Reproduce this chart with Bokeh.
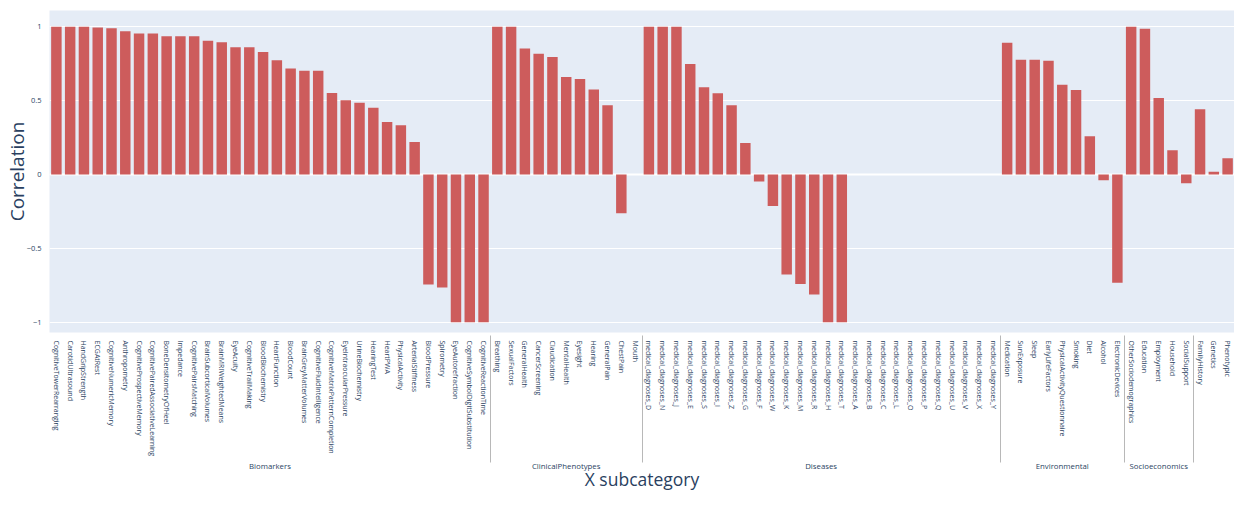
import math
from bokeh.plotting import figure
from bokeh.models import FactorRange, Range1d, FixedTicker, Span, ColumnDataSource
from bokeh.embed import file_html
from bokeh.resources import INLINE

# ---------------- data ----------------
biomarkers = ["CognitiveTowerRearranging", "CarotidUltrasound", "HandGripStrength", "ECGAtRest",
              "CognitiveNumericMemory", "Anthropometry", "CognitiveProspectiveMemory",
              "CognitivePairedAssociativeLearning", "BoneDensitometryOfHeel", "Impedance",
              "CognitivePairsMatching", "BrainSubcorticalVolumes", "BrainMRIWeightedMeans", "EyeAcuity",
              "CognitiveTrailMaking", "BloodBiochemistry", "HeartFunction", "BloodCount",
              "BrainGreyMatterVolumes", "CognitiveFluidIntelligence", "CognitiveMatrixPatternCompletion",
              "EyeIntraocularPressure", "UrineBiochemistry", "HearingTest", "HeartPWA", "PhysicalActivity",
              "ArterialStiffness", "BloodPressure", "Spirometry", "EyeAutorefraction",
              "CognitiveSymbolDigitSubstitution", "CognitiveReactionTime"]
biomarkers_corr = [1.0, 1.0, 1.0, 0.995, 0.989, 0.969, 0.955, 0.955, 0.935, 0.935,
                   0.935, 0.905, 0.895, 0.862, 0.862, 0.829, 0.773, 0.718, 0.702, 0.702,
                   0.551, 0.502, 0.485, 0.451, 0.355, 0.333, 0.22, -0.745, -0.765, -1.0,
                   -1.0, -1.0]

clinical = ["Breathing", "SexualFactors", "GeneralHealth", "CancerScreening", "Claudication",
            "MentalHealth", "Eyesight", "Hearing", "GeneralPain", "ChestPain", "Mouth"]
clinical_corr = [1.0, 1.0, 0.853, 0.818, 0.796, 0.66, 0.647, 0.576, 0.469, -0.262, 0.0]

diseases = ["medical_diagnoses_D", "medical_diagnoses_N", "medical_diagnoses_J", "medical_diagnoses_E",
            "medical_diagnoses_S", "medical_diagnoses_I", "medical_diagnoses_Z", "medical_diagnoses_G",
            "medical_diagnoses_F", "medical_diagnoses_W", "medical_diagnoses_K", "medical_diagnoses_M",
            "medical_diagnoses_R", "medical_diagnoses_H", "medical_diagnoses_T", "medical_diagnoses_A",
            "medical_diagnoses_B", "medical_diagnoses_C", "medical_diagnoses_L", "medical_diagnoses_O",
            "medical_diagnoses_P", "medical_diagnoses_Q", "medical_diagnoses_U", "medical_diagnoses_V",
            "medical_diagnoses_X", "medical_diagnoses_Y"]
diseases_corr = [1.0, 1.0, 1.0, 0.747, 0.591, 0.549, 0.469, 0.213, -0.047, -0.213, -0.678, -0.742,
                 -0.813, -1.0, -1.0, 0.0, 0.0, 0.0, 0.0, 0.0, 0.0, 0.0, 0.0, 0.0, 0.0, 0.0]

environmental = ["Medication", "SunExposure", "Sleep", "EarlyLifeFactors", "PhysicalActivityQuestionnaire",
                 "Smoking", "Diet", "Alcohol", "ElectronicDevices"]
environmental_corr = [0.891, 0.776, 0.776, 0.769, 0.607, 0.571, 0.258, -0.04, -0.733]

socioeconomics = ["OtherSociodemographics", "Education", "Employment", "Household", "SocialSupport"]
socioeconomics_corr = [1.0, 0.987, 0.518, 0.164, -0.06]

other = ["FamilyHistory", "Genetics", "Phenotypic"]
other_corr = [0.442, 0.018, 0.109]

group_names = ["Biomarkers", "ClinicalPhenotypes", "Diseases", "Environmental", "Socioeconomics", ""]
group_subs = [biomarkers, clinical, diseases, environmental, socioeconomics, other]
group_vals = [biomarkers_corr, clinical_corr, diseases_corr, environmental_corr,
              socioeconomics_corr, other_corr]

x_title = "X subcategory"
y_title = "Correlation"
y_ticks = [-1, -0.5, 0, 0.5, 1]
y_tick_labels = ["\u22121", "\u22120.5", "0", "0.5", "1"]

# ---------------- build ----------------
factors, values = [], []
for g, subs, vals in zip(group_names, group_subs, group_vals):
    for s, v in zip(subs, vals):
        factors.append((g, s))
        values.append(v)

src = ColumnDataSource(dict(x=factors, top=values))

TXT = "#2a3f5f"
FONT = "Open Sans"

p = figure(width=1234, height=494, output_backend="svg", toolbar_location=None,
           x_range=FactorRange(*factors, group_padding=0, factor_padding=0, range_padding=0),
           y_range=Range1d(-1.07, 1.11),
           min_border_left=0, min_border_right=0, min_border_top=10, min_border_bottom=0)

p.background_fill_color = "#E5ECF6"
p.border_fill_color = "white"
p.outline_line_color = None

p.vbar(x="x", top="top", bottom=0, width=0.76, source=src,
       fill_color="#CD5C5C", line_color=None)

p.add_layout(Span(location=0, dimension="width", line_color="white", line_width=2, level="underlay"))

p.xgrid.grid_line_color = None
p.ygrid.grid_line_color = "white"
p.ygrid.grid_line_width = 1

# y axis
p.yaxis.ticker = FixedTicker(ticks=y_ticks)
p.yaxis.major_label_overrides = dict(zip(y_ticks, y_tick_labels))
p.yaxis.axis_line_color = None
p.yaxis.major_tick_line_color = None
p.yaxis.minor_tick_line_color = None
p.yaxis.major_label_text_font = FONT
p.yaxis.major_label_text_font_size = "7.5px"
p.yaxis.major_label_text_color = TXT
p.yaxis.major_label_standoff = 2
p.yaxis.axis_label = y_title
p.yaxis.axis_label_text_font = FONT
p.yaxis.axis_label_text_font_size = "19px"
p.yaxis.axis_label_text_font_style = "normal"
p.yaxis.axis_label_text_color = TXT
p.yaxis.axis_label_standoff = -6

# x axis
xa = p.xaxis[0]
xa.axis_line_color = None
xa.major_tick_line_color = None
xa.minor_tick_line_color = None
xa.major_label_orientation = -math.pi / 2
xa.major_label_text_font = FONT
xa.major_label_text_font_size = "7px"
xa.major_label_text_color = TXT
xa.major_label_standoff = 2
xa.group_label_orientation = "horizontal"
xa.group_text_font = FONT
xa.group_text_font_size = "7.8px"
xa.group_text_font_style = "normal"
xa.group_text_color = TXT
xa.separator_line_color = "#b8b8b8"
xa.separator_line_width = 1
xa.axis_label = x_title
xa.axis_label_text_font = FONT
xa.axis_label_text_font_size = "17.5px"
xa.axis_label_text_font_style = "normal"
xa.axis_label_text_color = TXT
xa.axis_label_standoff = -7

open("out.html", "w").write(file_html(p, INLINE))
